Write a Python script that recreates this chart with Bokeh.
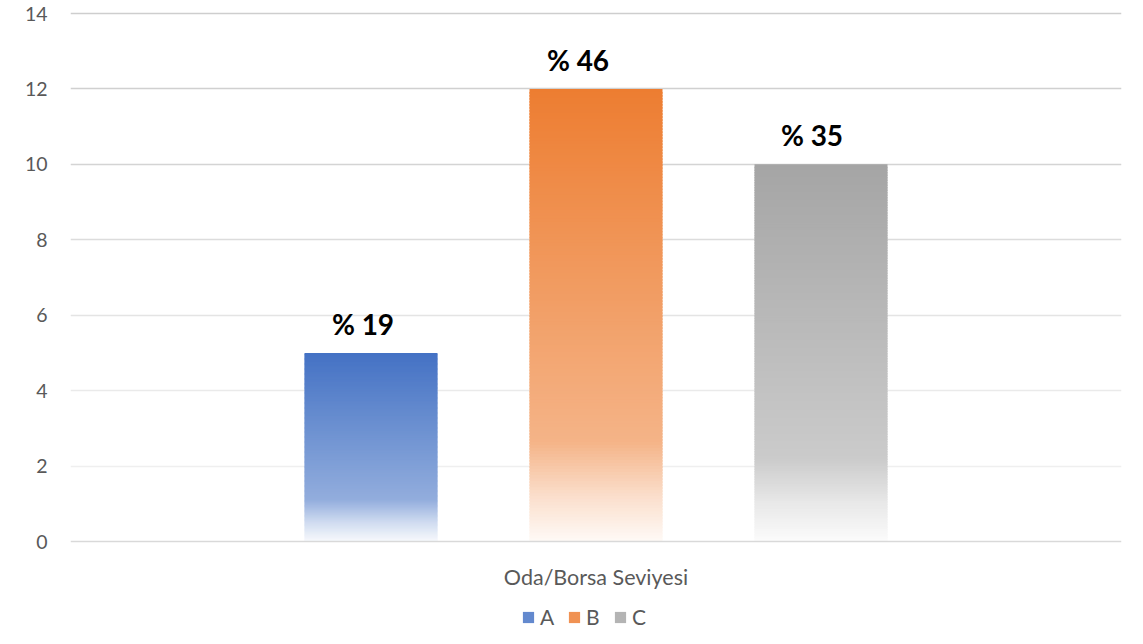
import numpy as np
from bokeh.plotting import figure
from bokeh.models import (Range1d, FixedTicker, Grid, ColumnDataSource, Legend,
                          LegendItem)
from bokeh.core.properties import value
from bokeh.embed import file_html
from bokeh.resources import INLINE

# ---- data ----
category = "Oda/Borsa Seviyesi"
series = ["A", "B", "C"]
values = [5, 12, 10]
data_labels = ["% 19", "% 46", "% 35"]
y_ticks = [0, 2, 4, 6, 8, 10, 12, 14]

# ---- styles / layout ----
base_colors = [(68, 114, 196), (237, 125, 49), (165, 165, 165)]
label_dx = [-8, -18, -9]          # px shift of the data labels
FONT = "Lato"
TXT = "#595959"
W, H = 1127, 628
FRAME_LEFT, FRAME_RIGHT = 70, 1121
FRAME_TOP = 10                    # canvas row where the frame starts
TOP_Y, ZERO_Y = 13, 541           # pixel rows of y=14 and y=0
FRAME_W = FRAME_RIGHT - FRAME_LEFT
spacing = 225 / FRAME_W
bar_w = 133 / FRAME_W
center = 0.5
y_top = y_ticks[-1]
px_per_unit = (ZERO_Y - TOP_Y) / y_top
y_end = y_top + (TOP_Y - FRAME_TOP) / px_per_unit
y_min = -(H - ZERO_Y) / px_per_unit   # room under the axis for label + legend

p = figure(width=W, height=H, x_range=Range1d(0, 1), y_range=Range1d(y_min, y_end),
           output_backend="svg", toolbar_location=None,
           min_border_left=FRAME_LEFT, min_border_right=W - FRAME_RIGHT,
           min_border_top=FRAME_TOP, min_border_bottom=0)
p.outline_line_color = None
p.background_fill_color = "white"
p.border_fill_color = "white"
p.xgrid.visible = False
p.ygrid.visible = False

grid_colors = {2: "#efefef", 4: "#eaeaea", 6: "#e4e4e4", 8: "#dcdcdc",
               10: "#d4d4d4", 12: "#d0d0d0", 14: "#cecece"}
for t in y_ticks[1:]:
    p.add_layout(Grid(dimension=1, ticker=FixedTicker(ticks=[t]),
                      grid_line_color=grid_colors[t], grid_line_width=1.6))

# y axis
p.yaxis.ticker = FixedTicker(ticks=y_ticks)
p.yaxis.axis_line_color = None
p.yaxis.major_tick_line_color = None
p.yaxis.minor_tick_line_color = None
p.yaxis.major_tick_out = 0
p.yaxis.major_label_standoff = 23
p.yaxis.major_label_text_font = FONT
p.yaxis.major_label_text_font_size = "19.5px"
p.yaxis.major_label_text_color = TXT

# x axis, pinned at y = 0
p.xaxis.fixed_location = 0
p.xaxis.ticker = FixedTicker(ticks=[center])
p.xaxis.major_label_overrides = {center: category}
p.xaxis.axis_line_color = "#d9d9d9"
p.xaxis.axis_line_width = 1.6
p.xaxis.major_tick_line_color = None
p.xaxis.minor_tick_line_color = None
p.xaxis.major_tick_out = 0
p.xaxis.major_label_standoff = 22
p.xaxis.major_label_text_font = FONT
p.xaxis.major_label_text_font_size = "21.5px"
p.xaxis.major_label_text_color = TXT

# gradient: fraction of white mixed in, from top (0) to bottom (1)
stops_t = [0.0, 0.78, 0.9, 1.0]
stops_f = [0.0, 0.42, 0.75, 0.96]


def shade(rgb, t):
    f = np.interp(t, stops_t, stops_f)
    r, g, b = [int(round(c + (255 - c) * f)) for c in rgb]
    return "#%02x%02x%02x" % (r, g, b)


N = 150
items = []
xcs = []
for i, (s, v, rgb) in enumerate(zip(series, values, base_colors)):
    xc = center + (i - 1) * spacing
    xcs.append(xc)
    edges = np.linspace(v, 0, N + 1)
    step = v / N
    bottoms = np.maximum(edges[1:] - 0.6 * step, 0)   # overlap slices: no seams
    tmid = (np.arange(N) + 0.5) / N
    cols = [shade(rgb, t) for t in tmid]
    src = ColumnDataSource(dict(left=[xc - bar_w / 2] * N, right=[xc + bar_w / 2] * N,
                                top=edges[:-1], bottom=bottoms, color=cols))
    r = p.quad(left="left", right="right", top="top", bottom="bottom", source=src,
               fill_color="color", line_color=None)
    items.append(LegendItem(label=s, renderers=[r], index=int(N * 0.3)))

# data labels
for xc, v, lab, dx in zip(xcs, values, data_labels, label_dx):
    p.text(x=[xc], y=[v], text=[lab], text_font=value(FONT), text_font_style="bold",
           text_font_size="28px", text_align="center", text_baseline="alphabetic",
           x_offset=dx, y_offset=-29, text_color="black")

legend = Legend(items=items, orientation="horizontal", location=(451, -1),
                glyph_width=14, glyph_height=14, label_text_font=FONT,
                label_text_font_size="21px", label_text_color=TXT,
                label_standoff=5, spacing=7, padding=0, margin=0,
                border_line_color=None, background_fill_alpha=0)
p.add_layout(legend)

open("out.html", "w").write(file_html(p, INLINE))
